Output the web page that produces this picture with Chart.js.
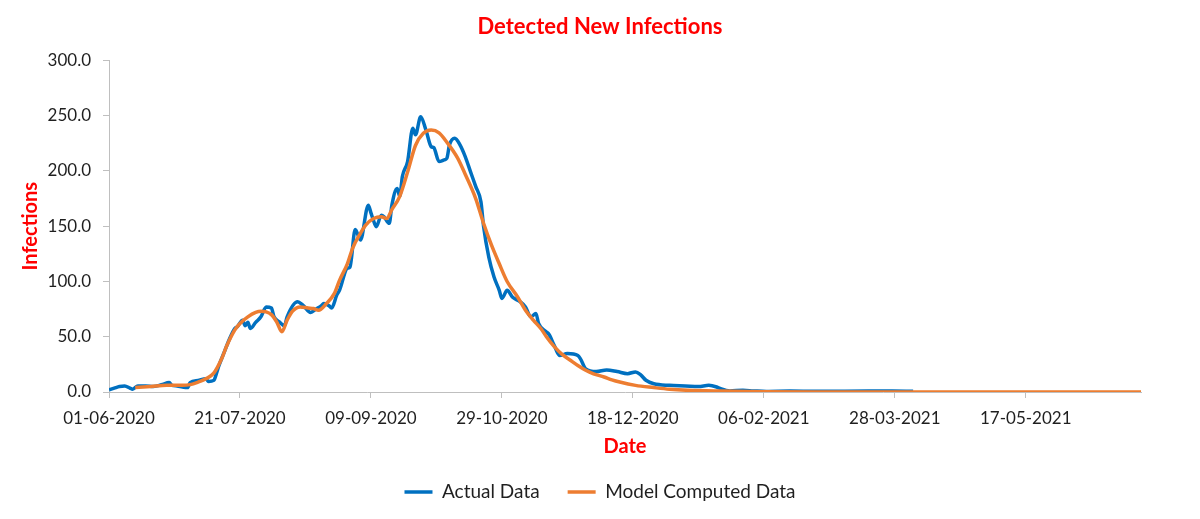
<!DOCTYPE html>
<html>
<head>
<meta charset="utf-8">
<title>Detected New Infections</title>
<script src="https://cdn.jsdelivr.net/npm/chart.js@4.4.1/dist/chart.umd.min.js"></script>
<style>
    body { margin: 0; background: #fff; }
    #wrap { width: 1200px; height: 519px; }
</style>
</head>
<body>
<div id="wrap"><canvas id="canvas" width="1200" height="519"></canvas></div>
<script>
// days counted from 01-06-2020
var START = Date.UTC(2020, 5, 1);
var AXIS_MAX_DAY = 394;
var TICK_STEP = 50;
var Y_TICKS = [0, 50, 100, 150, 200, 250, 300];

var actualDays = [0, 2, 4, 6, 8, 9, 11, 14, 17, 20, 23, 24, 26, 28, 30, 31, 34, 37, 38, 40,
    41, 42, 44, 46, 48, 49, 51, 52, 53, 54, 56, 58, 60, 62, 63, 65, 67, 68, 72, 74,
    77, 79, 81, 82, 84, 85, 87, 88, 91, 92, 94, 96, 99, 100, 101, 102, 104, 105, 107, 108,
    110, 111, 112, 114, 116, 117, 119, 121, 123, 124, 126, 128, 129, 130, 132, 134, 136, 138, 140, 142,
    143, 145, 147, 149, 150, 152, 154, 156, 157, 159, 161, 163, 164, 167, 168, 170, 172, 175, 179, 180,
    182, 186, 190, 194, 198, 201, 203, 205, 208, 214, 220, 225, 229, 232, 233, 237, 242, 246, 251, 260,
    270, 280, 290, 299, 307];
var actualValues = [2, 3.5, 5, 5.5, 3.5, 2.5, 5.5, 5.5, 5, 6.5, 8.5, 6, 5.5, 4.5, 4, 8.5, 10.5, 12, 9.5, 10.5,
    16.6, 24, 36, 48, 57.5, 59, 65, 60, 63, 57.5, 63, 68, 77, 76, 68, 63.5, 60, 68, 81.6, 78.6,
    72, 75, 78, 80, 78, 76, 88, 92, 112, 113, 147, 137.5, 169, 162, 155, 149.6, 160, 158.6, 152.6, 169,
    184, 177, 195, 208.5, 238.7, 232.7, 249, 237, 222, 221, 208.5, 210, 211.5, 223.6, 229.6, 223.6, 213, 199.4, 186, 172,
    150, 122, 104, 92, 84.6, 92, 86, 83, 81.6, 77, 68, 71, 62, 54.4, 52, 42, 33, 34.8, 33, 30,
    21, 18.5, 20, 18.5, 16.6, 18.2, 15.5, 10.6, 7.5, 6, 5.5, 5, 6, 4.5, 3.5, 1, 1.5, 1, 0.5, 0.8,
    0.6, 0.7, 0.8, 0.9, 0.7];

var modelDays = [10, 16, 22, 28, 31, 34, 37, 40, 43, 45, 48, 50, 53, 56, 58, 60, 62, 64, 66, 68,
    70, 73, 76, 78, 80, 83, 86, 88, 91, 93, 96, 98, 101, 104, 106, 108, 111, 114, 117, 120,
    123, 126, 129, 133, 136, 140, 143, 146, 149, 152, 156, 159, 162, 165, 167, 170, 173, 176, 179, 182,
    185, 189, 192, 195, 201, 208, 214, 221, 233, 250, 270, 300, 394];
var modelValues = [4, 5, 6, 6, 6.7, 9, 12, 17, 30, 42, 56, 62, 68, 72, 73, 72.5, 70, 63.5, 54.5, 65,
    73, 77, 76, 75.5, 74, 80, 89, 101, 116, 130, 143.6, 151, 157, 158.6, 157, 165, 177, 199, 223, 234,
    237, 234.5, 226, 212, 197, 175, 152.6, 133, 116, 100, 86, 74, 65, 57, 50, 41, 34, 29, 24, 19.7,
    16.5, 13.6, 11, 9, 6, 4, 2.5, 1.5, 0.8, 0.3, 0.1, 0, 0];

var toPoints = function(days, values) {
    return days.map(function(d, i) {
        return {x: d, y: values[i]};
    });
};

var dayLabel = function(day) {
    var d = new Date(START + day * 86400000);
    var dd = ("0" + d.getUTCDate()).slice(-2);
    var mm = ("0" + (d.getUTCMonth() + 1)).slice(-2);
    return dd + "-" + mm + "-" + d.getUTCFullYear();
};

var FONT = "Lato, 'Open Sans', sans-serif";
var AXIS_GREY = "#BFBFBF";
var TEXT = "#1F1F1F";

window.onload = function() {
    var ctx = document.getElementById("canvas").getContext("2d");
    window.myLine = new Chart(ctx, {
        type: "line",
        data: {
            datasets: [{
                label: "Actual Data",
                data: toPoints(actualDays, actualValues),
                borderColor: "#0070C0",
                backgroundColor: "#0070C0",
                borderWidth: 3.5,
                pointRadius: 0,
                cubicInterpolationMode: "monotone",
                order: 1
            }, {
                label: "Model Computed Data",
                data: toPoints(modelDays, modelValues),
                borderColor: "#ED7D31",
                backgroundColor: "#ED7D31",
                borderWidth: 3.5,
                pointRadius: 0,
                cubicInterpolationMode: "monotone",
                order: 0
            }]
        },
        options: {
            responsive: false,
            animation: false,
            layout: {
                padding: {left: 0, right: 0, top: 0, bottom: 7.5}
            },
            scales: {
                x: {
                    type: "linear",
                    min: 0,
                    max: AXIS_MAX_DAY,
                    afterFit: function(scale) { scale.height = 62.5; },
                    grid: {drawOnChartArea: false, color: AXIS_GREY, tickLength: 6},
                    border: {color: AXIS_GREY, width: 1},
                    ticks: {
                        stepSize: TICK_STEP,
                        includeBounds: false,
                        maxRotation: 0,
                        padding: 10,
                        color: TEXT,
                        font: {family: FONT, size: 17},
                        callback: function(v) { return dayLabel(v); }
                    },
                    title: {
                        display: true,
                        text: "Date",
                        color: "#FF0000",
                        padding: {top: 0, bottom: -4.5},
                        font: {family: FONT, size: 20, weight: "bold"}
                    }
                },
                y: {
                    min: 0,
                    max: 300,
                    afterBuildTicks: function(scale) {
                        scale.ticks = Y_TICKS.map(function(v) { return {value: v}; });
                    },
                    afterFit: function(scale) { scale.width = 109; },
                    grid: {drawOnChartArea: false, color: AXIS_GREY, tickLength: 6},
                    border: {color: AXIS_GREY, width: 1},
                    ticks: {
                        padding: 12,
                        color: TEXT,
                        font: {family: FONT, size: 17},
                        callback: function(v) { return v.toFixed(1); }
                    },
                    title: {
                        display: true,
                        text: "Infections",
                        color: "#FF0000",
                        padding: {top: 19, bottom: 0},
                        font: {family: FONT, size: 20, weight: "bold"}
                    }
                },
                // empty right margin so title and legend stay centred on the page
                yPad: {
                    position: "right",
                    display: true,
                    grid: {display: false},
                    border: {display: false},
                    ticks: {display: false},
                    afterFit: function(scale) { scale.width = 59; }
                }
            },
            plugins: {
                title: {
                    display: true,
                    text: "Detected New Infections",
                    color: "#FF0000",
                    padding: {top: 14, bottom: 20},
                    font: {family: FONT, size: 22, weight: "bold"}
                },
                legend: {
                    position: "bottom",
                    labels: {
                        usePointStyle: true,
                        pointStyle: "line",
                        pointStyleWidth: 28,
                        padding: 28,
                        color: TEXT,
                        font: {family: FONT, size: 19},
                        sort: function(a, b) { return a.datasetIndex - b.datasetIndex; }
                    }
                },
                tooltip: {enabled: false}
            }
        }
    });
};
</script>
</body>
</html>
